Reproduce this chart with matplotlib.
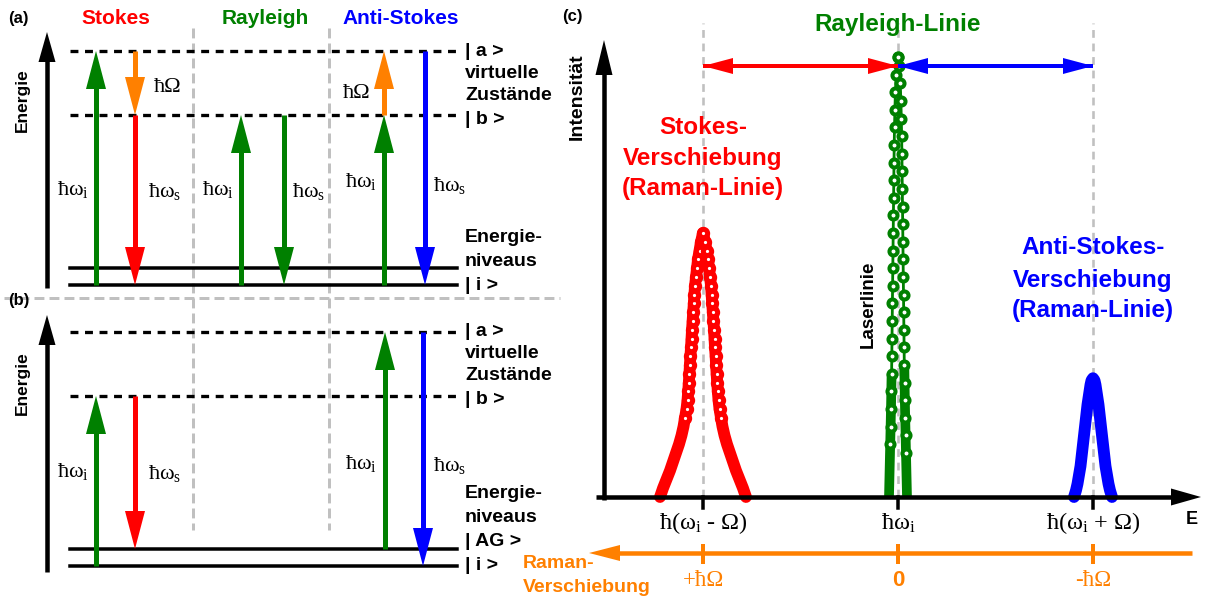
import numpy as np
import matplotlib
matplotlib.use("Agg")
import matplotlib.pyplot as plt
from matplotlib.patches import Polygon
from matplotlib import transforms

plt.rcParams["font.family"] = ["Liberation Sans", "DejaVu Sans"]

RED, GREEN, BLUE, ORANGE, GREY = "#ff0000", "#008000", "#0000ff", "#ff8000", "#c0c0c0"
SERIF = ["Liberation Serif", "DejaVu Serif"]

# ---- panel (c): spectrum, energy in arb. units (Raman shift = 195), intensity rel. to laser line
LINE_CENTERS = [-195, 0, 195]
E_TICK_LABELS = ["ħ($\\mathregular{ω_i}$ - Ω)", "ħ$\\mathregular{ω_i}$", "ħ($\\mathregular{ω_i}$ + Ω)"]
SHIFT_LABELS = ["+ħΩ", "0", "-ħΩ"]

# half profiles, from line centre outwards
STOKES_OFFSET = [0, 2, 3.5, 5, 6, 7, 8, 8.6, 9.2, 9.8, 10.4, 11, 11.5, 12, 12.6, 13.1,
                 13.6, 14.2, 14.8, 15.5, 16.5, 18, 19.5, 21.5, 24, 27, 30, 33, 36.5, 40, 43]
STOKES_INT = [0.60, 0.58, 0.56, 0.54, 0.52, 0.50, 0.48, 0.46, 0.44, 0.42, 0.40, 0.38, 0.36,
              0.34, 0.32, 0.30, 0.28, 0.26, 0.24, 0.22, 0.20, 0.18, 0.16, 0.14, 0.12, 0.10,
              0.08, 0.06, 0.04, 0.02, 0.0]
ANTISTOKES_OFFSET = [0, 1.5, 2.5, 3.5, 4.5, 5.5, 6.5, 7.5, 8.5, 9.5, 10.5, 11.5, 12.5, 14, 15.5, 17, 19]
ANTISTOKES_INT = [0.27, 0.265, 0.255, 0.24, 0.225, 0.21, 0.19, 0.17, 0.15, 0.13, 0.11, 0.09,
                  0.07, 0.05, 0.03, 0.015, 0.0]

# laser (Rayleigh) line, two flanks
RAYLEIGH_LEFT_OFFSET = [-9.0, -8.6, -8.2, -7.8, -7.4, -7.0, -6.7, -6.4, -6.2, -6.0, -5.8, -5.6, -5.4,
                        -5.2, -5.0, -4.8, -4.6, -4.4, -4.2, -4.0, -3.8, -3.5, -3.1, -2.6, -1.8, 0]
RAYLEIGH_LEFT_INT = [0.00, 0.04, 0.08, 0.12, 0.16, 0.20, 0.24, 0.28, 0.32, 0.36, 0.40, 0.44, 0.48,
                     0.52, 0.56, 0.60, 0.64, 0.68, 0.72, 0.76, 0.80, 0.84, 0.88, 0.92, 0.96, 1.00]
RAYLEIGH_RIGHT_OFFSET = [0, 1.2, 2.2, 2.9, 3.3, 3.65, 3.9, 4.1, 4.3, 4.5, 4.7, 4.9, 5.1, 5.3, 5.5,
                         5.7, 5.9, 6.1, 6.3, 6.55, 6.85, 7.2, 7.6, 8.0, 8.4, 8.8, 9.0]
RAYLEIGH_RIGHT_INT = [1.00, 0.98, 0.94, 0.90, 0.86, 0.82, 0.78, 0.74, 0.70, 0.66, 0.62, 0.58, 0.54,
                      0.50, 0.46, 0.42, 0.38, 0.34, 0.30, 0.26, 0.22, 0.18, 0.14, 0.10, 0.06, 0.02, 0.0]

# ---- panels (a)/(b): term schemes, level heights in drawing px (top = 0)
LEVELS_A = {"a": 51, "b": 115, "v": 268, "i": 285}
LEVELS_B = {"a": 332, "b": 396, "AG": 549, "i": 566}
LEVEL_LABELS_A = [("| a >", 52), ("virtuelle", 73), ("Zustände", 96), ("| b >", 120),
                  ("Energie-", 238), ("niveaus", 261), ("| i >", 285)]
LEVEL_LABELS_B = [("| a >", 332), ("virtuelle", 353), ("Zustände", 376), ("| b >", 400),
                  ("Energie-", 494), ("niveaus", 518), ("| AG >", 542), ("| i >", 565)]
# (x, from level, to level, colour)
TRANSITIONS_A = [(96, "i", "a", GREEN), (135, "a", "b", ORANGE), (135, "b", "i", RED),
                 (241, "i", "b", GREEN), (284, "b", "i", GREEN),
                 (384, "i", "b", GREEN), (384, "b", "a", ORANGE), (425, "a", "i", BLUE)]
TRANSITIONS_B = [(96, "i", "b", GREEN), (135, "b", "AG", RED),
                 (385, "AG", "a", GREEN), (423, "a", "i", BLUE)]
WI, WS, OM = "ħ$\\mathregular{ω_i}$", "ħ$\\mathregular{ω_s}$", "ħΩ"
SYMBOLS_A = [(WI, 73, 189), (OM, 168, 88), (WS, 165, 191), (WI, 218, 189), (WS, 309, 191),
             (OM, 357, 93), (WI, 361, 181), (WS, 450, 185)]
SYMBOLS_B = [(WI, 73, 472), (WS, 165, 474), (WI, 361, 463), (WS, 450, 465)]
COLUMN_TITLES = [("Stokes", 116, RED), ("Rayleigh", 265, GREEN), ("Anti-Stokes", 401, BLUE)]


def arrow(ax, x0, y0, x1, y1, color, lw_px=5, head_len=38, head_w=20, sx=1.0, sy=1.0, zorder=3):
    p0 = np.array([x0 * sx, y0 * sy])
    p1 = np.array([x1 * sx, y1 * sy])
    u = (p1 - p0) / np.hypot(*(p1 - p0))
    n = np.array([-u[1], u[0]])
    base = p1 - u * head_len
    shaft_end = base + u * 2
    ax.plot([p0[0] / sx, shaft_end[0] / sx], [p0[1] / sy, shaft_end[1] / sy], color=color,
            lw=lw_px * 0.72, solid_capstyle="butt", zorder=zorder, clip_on=False)
    tri = np.array([p1, base + n * head_w / 2, base - n * head_w / 2])
    tri[:, 0] /= sx
    tri[:, 1] /= sy
    ax.add_patch(Polygon(tri, closed=True, facecolor=color, edgecolor="none", zorder=zorder,
                         clip_on=False))


def mirrored(offset, inten, center):
    off = np.asarray(offset, float)
    val = np.asarray(inten, float)
    x = np.concatenate([center - off[::-1], center + off[1:]])
    y = np.concatenate([val[::-1], val[1:]])
    return x, y


fig = plt.figure(figsize=(12.05, 5.99), dpi=100)
ax_c = fig.add_axes([593 / 1205, (599 - 497) / 599, 610 / 1205, 467 / 599])
ax_c.set_xlim(-305, 305)
ax_c.set_ylim(0, 467 / 440)
ax_c.axis("off")
ax = fig.add_axes([0, 0, 1, 1], zorder=2)
ax.set_xlim(0, 1205)
ax.set_ylim(599, 0)
ax.axis("off")

# ---------------- panels (a) and (b)
grey_dash = dict(color=GREY, lw=3 * 0.72, ls=(0, (3.3, 1.7)), dash_capstyle="butt", zorder=1)
for xs in (193, 329):
    ax.plot([xs, xs], [28, 530], **grey_dash)
ax.plot([4, 560], [298, 298], **grey_dash)

for levels, labels, trans, symbols, top, bottom, tag, ey in [
        (LEVELS_A, LEVEL_LABELS_A, TRANSITIONS_A, SYMBOLS_A, 32, 288, "(a)", 100),
        (LEVELS_B, LEVEL_LABELS_B, TRANSITIONS_B, SYMBOLS_B, 315, 572, "(b)", 383)]:
    for name, y in levels.items():
        if name in ("a", "b"):
            ax.plot([70, 457], [y, y], color="black", lw=3.3 * 0.72, ls=(0, (2.4, 2.0)),
                    dash_capstyle="butt", zorder=2)
        else:
            ax.plot([70, 457], [y, y], color="black", lw=3.5 * 0.72, zorder=2)
    arrow(ax, 47, bottom, 47, top, "black", lw_px=4.5, head_len=30, head_w=17)
    ax.text(22, ey, "Energie", rotation=90, ha="center", va="center", fontsize=12.5,
            fontweight="bold")
    ax.text(8, top - 14, tag, ha="left", va="center", fontsize=12, fontweight="bold")
    for x, lo, hi, col in trans:
        arrow(ax, x, levels[lo], x, levels[hi], col, lw_px=5, head_len=38, head_w=20)
    for txt, y in labels:
        ax.text(465, y, txt, ha="left", va="center", fontsize=14, fontweight="bold")
    for txt, x, y in symbols:
        ax.text(x, y, txt, ha="center", va="center", fontsize=16, family=SERIF)

for txt, x, col in COLUMN_TITLES:
    ax.text(x, 19, txt, ha="center", va="center", fontsize=15, fontweight="bold", color=col)

# ---------------- panel (c)
for xc in LINE_CENTERS:
    ax_c.plot([xc, xc], [0, (497 - 23) / 440], color=GREY, lw=2.6 * 0.72,
              ls=(0, (3.0, 2.2)), dash_capstyle="butt", zorder=1, clip_on=False)

sx_c, sy_c = 1.0, 440.0
arrow_level = (497 - 66) / 440
for a, b, col in [(0, 1, RED), (1, 0, RED), (1, 2, BLUE), (2, 1, BLUE)]:
    arrow(ax_c, LINE_CENTERS[a], arrow_level, LINE_CENTERS[b], arrow_level, col, lw_px=4,
          head_len=30, head_w=16, sx=sx_c, sy=sy_c, zorder=6)

# Stokes line
sx_, sy_ = mirrored(STOKES_OFFSET, STOKES_INT, LINE_CENTERS[0])
ax_c.plot(sx_, sy_, color=RED, lw=8.5, solid_joinstyle="round", solid_capstyle="round",
          clip_on=False, zorder=3)
m = sy_ > 0.17
ax_c.plot(sx_[m], sy_[m], ls="none", marker="o", ms=6, mfc="white", mec=RED, mew=3.6,
          clip_on=False, zorder=4)

# anti-Stokes line
ax_, ay_ = mirrored(ANTISTOKES_OFFSET, ANTISTOKES_INT, LINE_CENTERS[2])
ax_c.plot(ax_, ay_, color=BLUE, lw=8.5, solid_joinstyle="round", solid_capstyle="round",
          clip_on=False, zorder=3)

# Rayleigh line
for off, val in [(RAYLEIGH_LEFT_OFFSET, RAYLEIGH_LEFT_INT), (RAYLEIGH_RIGHT_OFFSET, RAYLEIGH_RIGHT_INT)]:
    rx = LINE_CENTERS[1] + np.asarray(off, float)
    ry = np.asarray(val, float)
    low = ry <= 0.30
    ax_c.plot(rx[low], ry[low], color=GREEN, lw=7, solid_capstyle="butt", clip_on=False, zorder=3)
    ax_c.plot(rx, ry, color=GREEN, lw=2, clip_on=False, zorder=3)
    mk = ry >= 0.1
    ax_c.plot(rx[mk], ry[mk], ls="none", marker="o", ms=5.8, mfc="white", mec=GREEN, mew=2.9,
              clip_on=False, zorder=4)

# axes arrows (drawn in px)
arrow(ax, 604, 500, 604, 40, "black", lw_px=4.5, head_len=35, head_w=17)
arrow(ax, 596, 497, 1201, 497, "black", lw_px=4.5, head_len=30, head_w=17)
ax.text(572, 17, "(c)", ha="center", va="center", fontsize=12, fontweight="bold")
ax.text(577, 97, "Intensität", rotation=90, ha="center", va="center", fontsize=14,
        fontweight="bold")
ax.text(1192, 519, "E", ha="center", va="center", fontsize=13, fontweight="bold")

xpx = transforms.blended_transform_factory(ax_c.transData, ax.transData)
for xc, lab, shift in zip(LINE_CENTERS, E_TICK_LABELS, SHIFT_LABELS):
    ax.plot([xc, xc], [497, 508], color="black", lw=3.5 * 0.72, transform=xpx, zorder=3)
    ax.text(xc, 523, lab, transform=xpx, ha="center", va="center", fontsize=17.5, family=SERIF)
    ax.plot([xc, xc], [546, 562], color=ORANGE, lw=4 * 0.72, transform=xpx, zorder=3)
    if shift == "0":
        ax.text(xc, 580, shift, transform=xpx, ha="center", va="center", fontsize=16,
                fontweight="bold", color=ORANGE)
    else:
        ax.text(xc, 580, shift, transform=xpx, ha="center", va="center", fontsize=16.5,
                family=SERIF, color=ORANGE)

arrow(ax, 1192, 553, 589, 553, ORANGE, lw_px=4.5, head_len=31, head_w=16)
ax.text(523, 564, "Raman-", ha="left", va="center", fontsize=14, fontweight="bold", color=ORANGE)
ax.text(523, 588, "Verschiebung", ha="left", va="center", fontsize=14, fontweight="bold",
        color=ORANGE)

ax.text(LINE_CENTERS[1], 24, "Rayleigh-Linie", transform=xpx, ha="center", va="center",
        fontsize=17.5, fontweight="bold", color=GREEN)
for txt, y in [("Stokes-", 127), ("Verschiebung", 158), ("(Raman-Linie)", 188)]:
    ax.text(LINE_CENTERS[0], y, txt, transform=xpx, ha="center", va="center", fontsize=17.5,
            fontweight="bold", color=RED)
for txt, y in [("Anti-Stokes-", 248), ("Verschiebung", 280), ("(Raman-Linie)", 311)]:
    ax.text(LINE_CENTERS[2], y, txt, transform=xpx, ha="center", va="center", fontsize=17.5,
            fontweight="bold", color=BLUE)
ax.text(868, 304, "Laserlinie", rotation=90, ha="center", va="center", fontsize=13.5,
        fontweight="bold")

fig.savefig("out.png", dpi=100)
